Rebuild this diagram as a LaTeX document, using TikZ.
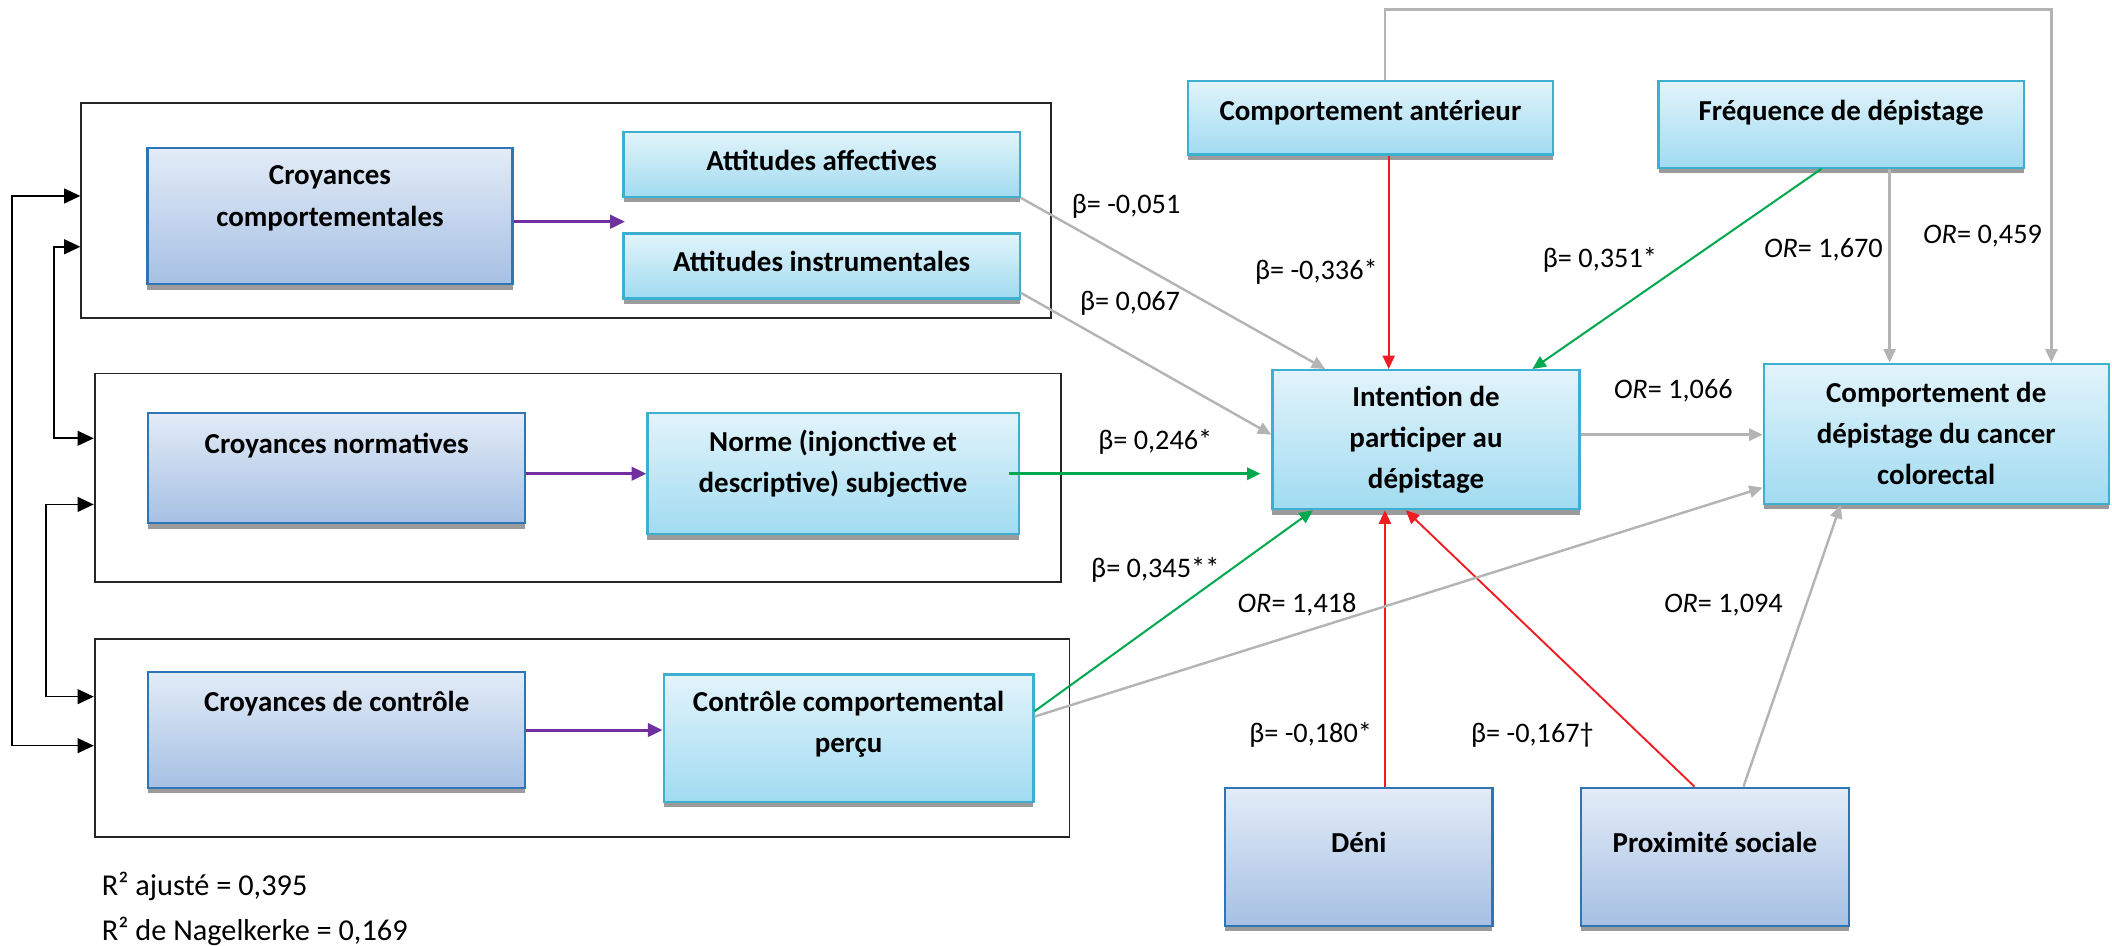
\documentclass[tikz,border=0pt]{standalone}
\usepackage{fontspec}
\setmainfont{Carlito}
\usetikzlibrary{arrows.meta,shadows}
\definecolor{dkTop}{HTML}{E3ECF7}
\definecolor{dkBot}{HTML}{A6C0E4}
\definecolor{dkLine}{HTML}{2E75B6}
\definecolor{cyTop}{HTML}{E2F4FB}
\definecolor{cyBot}{HTML}{A1DBF1}
\definecolor{cyLine}{HTML}{3DAFCF}
\definecolor{arrGray}{HTML}{B4B4B4}
\definecolor{arrRed}{HTML}{EE1D23}
\definecolor{arrGreen}{HTML}{00A94F}
\definecolor{arrPurple}{HTML}{7030A0}
\definecolor{shade}{HTML}{9B9B9B}

\begin{document}
\begin{tikzpicture}[x=1pt, y=-1pt,
    dims/.style 2 args={minimum width=#1pt, minimum height=#2pt},
    dbox/.style={draw=dkLine, line width=1.7pt, top color=dkTop, bottom color=dkBot,
        drop shadow={shadow xshift=0pt, shadow yshift=-4pt, fill=shade, opacity=1},
        inner sep=0pt, align=center, font=\fontsize{21.5}{30.5}\selectfont\bfseries},
    cbox/.style={dbox, draw=cyLine, top color=cyTop, bottom color=cyBot},
    oneline/.style={text height=14pt, text depth=#1},
    lines/.style={text depth=#1},
    grp/.style={draw=black!85, line width=1.4pt, inner sep=0pt},
    lbl/.style={font=\fontsize{21}{25}\selectfont, inner sep=0pt},
    gry/.style={draw=arrGray, line width=1.8pt, -{Triangle[length=10pt,width=9pt]}},
    rd/.style={draw=arrRed, line width=1.4pt, -{Triangle[length=10pt,width=9pt]}},
    grn/.style={draw=arrGreen, line width=1.5pt, -{Triangle[length=10pt,width=9pt]}},
    purp/.style={draw=arrPurple, line width=2.2pt, -{Triangle[length=11pt,width=10pt]}},
    blk/.style={draw=black, line width=1.2pt, {Triangle[length=12pt,width=11pt]}-{Triangle[length=12pt,width=11pt]}}]
\useasboundingbox (0,0) rectangle (1568,702);
% Draw group frames
\node[grp, dims={719.7}{160.2}] (g1) at (420.2,156.3) {};
\node[grp, dims={717.2}{154.7}] (g2) at (428.9,354.6) {};
\node[grp, dims={723.7}{147.2}] (g3) at (432.2,548) {};
% Draw belief boxes
\node[dbox, dims={271}{101}, lines=30pt] (cc) at (245,160.5) {Croyances\\comportementales};
\node[dbox, dims={280}{82}, oneline=36pt] (cn) at (250,347.4) {Croyances normatives};
\node[dbox, dims={280}{86}, oneline=42pt] (cco) at (250,542) {Croyances de contrôle};
% Draw TPB boxes
\node[cbox, dims={294}{48.2}, oneline=5pt] (aa) at (610,121.9) {Attitudes affectives};
\node[cbox, dims={294}{48.2}, oneline=5pt] (ai) at (610,197.4) {Attitudes instrumentales};
\node[cbox, dims={275.6}{90}, lines=19pt] (norme) at (618.5,351.7) {Norme (injonctive et\\descriptive) subjective};
\node[cbox, dims={274.5}{94.6}, lines=24pt] (ccp) at (630,548) {Contrôle comportemental\\perçu};
% Draw right boxes
\node[cbox, dims={271}{54.7}, oneline=10pt] (ca) at (1017.4,87.3) {Comportement antérieur};
\node[cbox, dims={271}{64.6}, oneline=20pt] (fd) at (1366.9,92.2) {Fréquence de dépistage};
\node[cbox, dims={228}{103.2}] (int) at (1058.7,326.4) {Intention de\\participer au\\dépistage};
\node[cbox, dims={256}{104}] (cdcc) at (1437.5,322) {Comportement de\\dépistage du cancer\\colorectal};
\node[dbox, dims={198.5}{102.7}, oneline=21pt] (deni) at (1008.8,636.2) {Déni};
\node[dbox, dims={198.6}{102.7}, oneline=21pt] (prox) at (1273.2,636.2) {Proximité sociale};
% Draw left connectors
\coordinate (bus1) at (9,350);
\coordinate (bus2) at (40,250);
\coordinate (bus3) at (34,450);
\draw[blk] ([yshift=10.8pt]g1.west) -| (bus1) |- ([yshift=-5.6pt]g3.west);
\draw[blk] ([yshift=-26.9pt]g1.west) -| (bus2) |- ([yshift=29.2pt]g2.west);
\draw[blk] ([yshift=-19.9pt]g2.west) -| (bus3) |- ([yshift=30.8pt]g3.west);
% Draw purple arrows
\coordinate (att) at (464,164.6);
\draw[purp] (cc.east |- att) -- (att);
\draw[purp] (cn.east |- norme.west) -- (norme.west);
\draw[purp] (cco.east) -- (cco.east -| ccp.west);
% Draw arrows to intention
\draw[gry] (aa.south east) -- ([xshift=40pt]int.north west);
\draw[gry] ([yshift=5pt]ai.south east) -- ([yshift=3.7pt]int.west);
\draw[grn, line width=2.2pt] ([xshift=-8pt]norme.east) -- ([xshift=-8pt]norme.east -| int.west);
\draw[grn] ([yshift=20pt]ccp.east) -- ([xshift=-84pt]int.south);
\draw[grn] ([xshift=-14.6pt]fd.south) -- ([xshift=79pt]int.north);
\draw[rd] ([xshift=13.6pt]ca.south) -- ([xshift=13.6pt]ca.south |- int.north);
\draw[rd] ([xshift=19.4pt]deni.north) -- ([xshift=19.4pt]deni.north |- int.south);
\draw[rd] ([xshift=-15.2pt]prox.north) -- ([xshift=-15pt]int.south);
% Draw arrows to behaviour
\coordinate (loop) at (1523,7);
\draw[gry] ([yshift=3.7pt]int.east) -- ([yshift=3.7pt]int.east -| cdcc.west);
\draw[gry] ([xshift=36pt]fd.south) -- ([xshift=36pt]fd.south |- cdcc.north);
\draw[gry] ([xshift=11pt]ca.north) |- (loop) -- (loop |- cdcc.north);
\draw[gry] ([yshift=16pt]ccp.east) -- ([yshift=-40pt]cdcc.west);
\draw[gry] ([xshift=21.2pt]prox.north) -- ([xshift=-71pt]cdcc.south);
% Draw labels
\node[lbl] (b-aa) at (836,153.5) {β= -0,051};
\node[lbl] (b-ai) at (839,225) {β= 0,067};
\node[lbl] (b-ca) at (977.3,201.7) {β= -0,336*};
\node[lbl] (b-fd) at (1187.8,193) {β= 0,351*};
\node[lbl] (or-fd) at (1353.7,185.6) {\textit{OR}= 1,670};
\node[lbl] (or-ca) at (1471.9,175) {\textit{OR}= 0,459};
\node[lbl] (or-int) at (1242.3,290) {\textit{OR}= 1,066};
\node[lbl] (b-norme) at (857.7,328.4) {β= 0,246*};
\node[lbl] (b-ccp) at (857.7,423) {β= 0,345**};
\node[lbl] (or-ccp) at (963,449) {\textit{OR}= 1,418};
\node[lbl] (or-prox) at (1279.5,449) {\textit{OR}= 1,094};
\node[lbl] (b-deni) at (973,545.7) {β= -0,180*};
\node[lbl] (b-prox) at (1137.7,545.7) {β= -0,167†};
\node[lbl, anchor=west, font=\fontsize{22.5}{27}\selectfont] (r2a) at (75.5,657.8) {R² ajusté = 0,395};
\node[lbl, anchor=west, font=\fontsize{22.5}{27}\selectfont] (r2b) at (75.5,691.7) {R² de Nagelkerke = 0,169};
\end{tikzpicture}
\end{document}
